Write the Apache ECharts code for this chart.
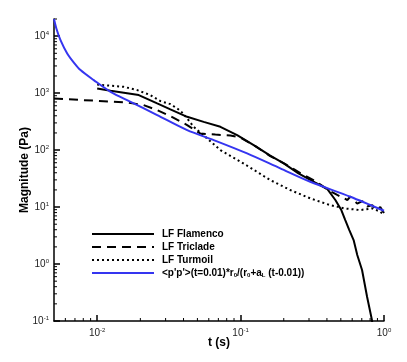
<!DOCTYPE html>
<html>
<head>
<meta charset="utf-8">
<script src="https://cdn.jsdelivr.net/npm/echarts@6/dist/echarts.min.js"></script>
<style>
html, body { margin: 0; padding: 0; background: #fff; }
#chart { width: 407px; height: 362px; }
</style>
</head>
<body>
<div id="chart"></div>
<script>
// data: [t (s), magnitude (Pa)]
var flamenco = [
    [0.0100, 1208], [0.0124, 1096], [0.0195, 923], [0.0262, 659], [0.0324, 518],
    [0.0424, 384], [0.0553, 313], [0.0723, 256], [0.0946, 183], [0.1234, 122],
    [0.161, 80], [0.200, 58.5], [0.253, 39], [0.332, 26.9], [0.403, 20.7],
    [0.458, 13.3], [0.504, 8.86], [0.537, 5.9], [0.573, 3.95], [0.614, 2.63],
    [0.651, 1.44], [0.703, 0.785], [0.762, 0.267], [0.824, 0.104], [0.841, 0.07]
];
var triclade = [
    [0.005, 801], [0.0100, 733], [0.0162, 687], [0.0211, 616], [0.0262, 503],
    [0.0324, 394], [0.0424, 275], [0.0525, 195], [0.0667, 187], [0.0849, 180],
    [0.0997, 166], [0.1268, 117], [0.161, 78.5], [0.205, 56.8], [0.261, 39.5],
    [0.332, 28.6], [0.409, 19.9], [0.472, 16.3], [0.555, 13.3], [0.582, 15.3],
    [0.651, 11.5], [0.706, 12.7], [0.764, 10.2], [0.828, 10.8], [0.883, 8.86],
    [0.942, 10], [1.0, 7.85]
];
var turmoil = [
    [0.0100, 1410], [0.0153, 1291], [0.0190, 1130], [0.0235, 923], [0.0276, 724],
    [0.0324, 641], [0.0380, 493], [0.0424, 360], [0.0471, 256], [0.0585, 160],
    [0.0723, 100], [0.0997, 62.8], [0.130, 41.6], [0.161, 29.8], [0.222, 19.9],
    [0.306, 14.2], [0.422, 10.8], [0.537, 9.42], [0.683, 8.86], [0.828, 9.49],
    [0.942, 8.28], [1.0, 7.24]
];
var model = [
    [0.005, 20000], [0.0052, 13500], [0.00555, 8510], [0.00618, 4970], [0.0069, 3400],
    [0.00765, 2540], [0.00947, 1690], [0.0124, 1055], [0.0171, 703], [0.0262, 411],
    [0.0424, 224], [0.065, 150], [0.111, 87.5], [0.189, 47.8], [0.306, 27.8],
    [0.582, 15.2], [1.0, 8.6]
];
var seriesNames = ['LF Flamenco', 'LF Triclade', 'LF Turmoil', "<p'p'>(t=0.01)*r0/(r0+aL (t-0.01))"];
var xMajor = [0.01, 0.1, 1];
var yMajor = [0.1, 1, 10, 100, 1000, 10000];

var xMin = 0.005, xMax = 1, yMin = 0.1, yMax = 20000;
var FONT = 'Liberation Sans, Arial, sans-serif';

// minor tick values (2..9 of each decade)
var xMinor = [], yMinor = [];
[0.001, 0.01, 0.1].forEach(function (d) {
    for (var m = 2; m <= 9; m++) { var v = d * m; if (v > xMin * 1.01 && v < xMax) xMinor.push([v, yMin]); }
});
[0.1, 1, 10, 100, 1000, 10000].forEach(function (d) {
    for (var m = 2; m <= 9; m++) { var v = d * m; if (v <= yMax * 1.001) yMinor.push([xMin, v]); }
});

var myChart = echarts.init(document.getElementById('chart'));

function powLabel(v) {
    var lg = Math.log(v) / Math.LN10;
    var e = Math.round(lg);
    if (Math.abs(lg - e) > 1e-6) return '';
    return '{b|10}{s|' + e + '}';
}
var labelRich = {
    b: { fontSize: 10, fontFamily: FONT, color: '#222' },
    s: { fontSize: 6, fontFamily: FONT, color: '#222', padding: [0, 0, 6, 0] }
};

var option = {
    animation: false,
    textStyle: { fontFamily: FONT },
    grid: { left: 54, right: 23, top: 19, bottom: 41 },
    legend: {
        data: seriesNames,
        orient: 'vertical',
        left: 86,
        top: 224,
        itemWidth: 62,
        itemHeight: 10,
        itemGap: 3,
        itemStyle: { opacity: 0 },
        textStyle: { fontSize: 10, fontWeight: 'bold', color: '#000', fontFamily: FONT,
            padding: [0, 0, 0, 3],
            rich: {
                t: { fontSize: 10, fontWeight: 'bold', color: '#000', fontFamily: FONT },
                u: { fontSize: 6, fontWeight: 'bold', color: '#000', fontFamily: FONT, padding: [4, 0, 0, 0] }
            }
        },
        formatter: function (name) {
            if (name.charAt(0) !== '<') return name;
            return "{t|<p'p'>(t=0.01)*r}{u|0}{t|/(r}{u|0}{t|+a}{u|L}{t| (t-0.01))}";
        }
    },
    xAxis: {
        type: 'log',
        min: xMin,
        max: xMax,
        name: 't (s)',
        nameLocation: 'middle',
        nameGap: 16,
        nameMoveOverlap: false,
        nameTextStyle: { fontSize: 12, fontWeight: 'bold', color: '#000', fontFamily: FONT },
        axisLine: { lineStyle: { color: '#000', width: 1.5 } },
        axisTick: { inside: true, length: 6, customValues: xMajor, lineStyle: { color: '#000', width: 1.5 } },
        axisLabel: { margin: 6, customValues: xMajor, formatter: powLabel, rich: labelRich },
        splitLine: { show: false }
    },
    yAxis: {
        type: 'log',
        min: yMin,
        max: yMax,
        name: 'Magnitude (Pa)',
        nameLocation: 'middle',
        nameGap: 23,
        nameMoveOverlap: false,
        nameTextStyle: { fontSize: 12, fontWeight: 'bold', color: '#000', fontFamily: FONT },
        axisLine: { lineStyle: { color: '#000', width: 1.5 } },
        axisTick: { inside: true, length: 6, customValues: yMajor, lineStyle: { color: '#000', width: 1.5 } },
        axisLabel: { margin: 5, customValues: yMajor, formatter: powLabel, rich: labelRich },
        splitLine: { show: false }
    },
    series: [
        {
            name: seriesNames[0], type: 'line', data: flamenco, symbol: 'none',
            lineStyle: { color: '#000', width: 2 }, itemStyle: { color: '#000' }
        },
        {
            name: seriesNames[1], type: 'line', data: triclade, symbol: 'none',
            lineStyle: { color: '#000', width: 2, type: [9, 6] }, itemStyle: { color: '#000' }
        },
        {
            name: seriesNames[2], type: 'line', data: turmoil, symbol: 'none',
            lineStyle: { color: '#000', width: 2, type: [2, 3] }, itemStyle: { color: '#000' }
        },
        {
            name: seriesNames[3], type: 'line', data: model, symbol: 'none', smooth: 0.3,
            lineStyle: { color: '#3535f0', width: 2 }, itemStyle: { color: '#3535f0' }
        },
        {
            // minor ticks of the t axis
            type: 'custom', silent: true, data: xMinor,
            renderItem: function (params, api) {
                var p = api.coord([api.value(0), api.value(1)]);
                return { type: 'line', shape: { x1: p[0], y1: p[1], x2: p[0], y2: p[1] - 3 },
                    style: { stroke: '#000', lineWidth: 1 } };
            }
        },
        {
            // minor ticks of the magnitude axis
            type: 'custom', silent: true, data: yMinor,
            renderItem: function (params, api) {
                var p = api.coord([api.value(0), api.value(1)]);
                return { type: 'line', shape: { x1: p[0], y1: p[1], x2: p[0] + 3, y2: p[1] },
                    style: { stroke: '#000', lineWidth: 1 } };
            }
        }
    ]
};

myChart.setOption(option);
</script>
</body>
</html>
